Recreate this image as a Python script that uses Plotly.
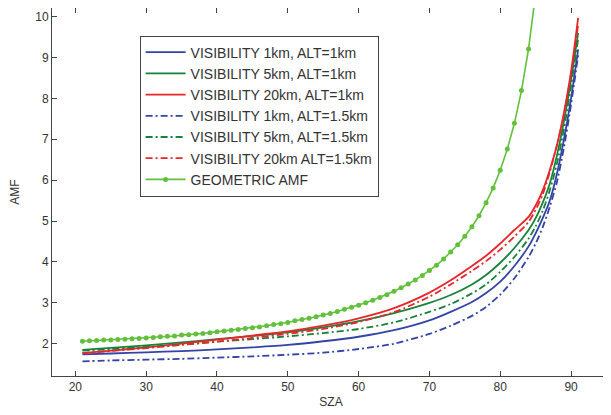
import plotly.graph_objects as go

# ---- data ----
sza = [21, 25, 30, 35, 40, 45, 50, 55, 60, 65, 70, 73, 76, 78, 80, 82, 84, 85, 86, 87, 88, 89, 90, 91]

vis1_alt1 = [1.74, 1.76, 1.79, 1.82, 1.86, 1.91, 1.97, 2.06, 2.17, 2.33, 2.57, 2.78, 3.02, 3.24, 3.52, 3.90, 4.38, 4.70, 5.07, 5.50, 6.15, 7.00, 8.00, 9.20]
vis5_alt1 = [1.85, 1.90, 1.96, 2.03, 2.11, 2.19, 2.28, 2.40, 2.55, 2.75, 3.00, 3.19, 3.45, 3.68, 3.98, 4.34, 4.78, 5.07, 5.45, 5.92, 6.60, 7.45, 8.45, 9.60]
vis20_alt1 = [1.77, 1.83, 1.91, 2.00, 2.10, 2.20, 2.30, 2.44, 2.62, 2.87, 3.25, 3.55, 3.90, 4.15, 4.45, 4.78, 5.10, 5.38, 5.75, 6.25, 6.85, 7.65, 8.65, 9.97]
vis1_alt15 = [1.57, 1.59, 1.61, 1.63, 1.66, 1.69, 1.73, 1.78, 1.87, 2.00, 2.24, 2.44, 2.68, 2.90, 3.20, 3.60, 4.12, 4.45, 4.85, 5.35, 5.95, 6.80, 7.85, 9.05]
vis5_alt15 = [1.83, 1.87, 1.92, 1.98, 2.05, 2.11, 2.18, 2.26, 2.36, 2.52, 2.78, 2.97, 3.23, 3.45, 3.76, 4.12, 4.57, 4.87, 5.25, 5.75, 6.40, 7.25, 8.30, 9.45]
vis20_alt15 = [1.77, 1.82, 1.89, 1.97, 2.05, 2.14, 2.24, 2.36, 2.53, 2.77, 3.15, 3.45, 3.78, 4.02, 4.30, 4.62, 4.98, 5.27, 5.65, 6.20, 6.85, 7.60, 8.60, 9.80]

sza_geo = list(range(21, 86))
geometric_amf = [2.06, 2.07, 2.08, 2.09, 2.09, 2.10, 2.11, 2.12, 2.13, 2.14,
                 2.15, 2.17, 2.18, 2.19, 2.21, 2.22, 2.24, 2.25, 2.27, 2.29,
                 2.31, 2.33, 2.35, 2.37, 2.39, 2.41, 2.44, 2.47, 2.49, 2.52,
                 2.56, 2.59, 2.62, 2.66, 2.70, 2.74, 2.79, 2.84, 2.89, 2.94,
                 3.00, 3.06, 3.13, 3.20, 3.28, 3.37, 3.46, 3.56, 3.67, 3.79,
                 3.92, 4.07, 4.24, 4.42, 4.63, 4.86, 5.13, 5.45, 5.81, 6.24,
                 6.76, 7.39, 8.19, 9.21, 10.57]

x_ticks = [20, 30, 40, 50, 60, 70, 80, 90]
y_ticks = [2, 3, 4, 5, 6, 7, 8, 9, 10]

BLUE = "#3343a6"
GREEN = "#17823a"
RED = "#e8262a"
LGREEN = "#62c03c"
DASHDOT = "7px,3px,2px,3px"

series = [
    ("VISIBILITY 1km, ALT=1km", vis1_alt1, BLUE, "solid"),
    ("VISIBILITY 5km, ALT=1km", vis5_alt1, GREEN, "solid"),
    ("VISIBILITY 20km, ALT=1km", vis20_alt1, RED, "solid"),
    ("VISIBILITY 1km, ALT=1.5km", vis1_alt15, BLUE, DASHDOT),
    ("VISIBILITY 5km, ALT=1.5km", vis5_alt15, GREEN, DASHDOT),
    ("VISIBILITY 20km ALT=1.5km", vis20_alt15, RED, DASHDOT),
]

fig = go.Figure()
for name, vals, col, dash in series:
    fig.add_trace(go.Scatter(
        x=sza, y=vals, name=name, mode="lines",
        line=dict(color=col, width=1.8, dash=dash, shape="spline", smoothing=0.7),
    ))

fig.add_trace(go.Scatter(
    x=sza_geo, y=geometric_amf, name="GEOMETRIC AMF", mode="lines+markers",
    line=dict(color=LGREEN, width=1.6),
    marker=dict(color=LGREEN, size=5),
))

axis_common = dict(
    showline=True, linecolor="#444444", linewidth=1, mirror="ticks",
    ticks="inside", ticklen=5, tickcolor="#444444",
    showgrid=False, zeroline=False,
    tickfont=dict(family="Liberation Sans, Arial, sans-serif", size=12, color="#333333"),
)

fig.update_layout(
    width=603, height=407,
    margin=dict(l=44, r=1, t=0, b=39),
    paper_bgcolor="white", plot_bgcolor="white",
    font=dict(family="Liberation Sans, Arial, sans-serif", size=12, color="#333333"),
    xaxis=dict(range=[16.7, 95.5], tickvals=x_ticks, ticktext=[str(v) for v in x_ticks],
               title=dict(text="SZA", standoff=4, font=dict(size=12)), **axis_common),
    yaxis=dict(range=[1.21, 10.21], tickvals=y_ticks, ticktext=[str(v) for v in y_ticks],
               title=dict(text="AMF", standoff=14, font=dict(size=12)), **axis_common),
    legend=dict(
        x=0.157, y=0.925, xanchor="left", yanchor="top",
        bgcolor="white", bordercolor="#444444", borderwidth=1,
        font=dict(family="Liberation Sans, Arial, sans-serif", size=14, color="#333333"),
        tracegroupgap=0, itemwidth=40,
    ),
    showlegend=True,
)

fig.write_html("out.html")
